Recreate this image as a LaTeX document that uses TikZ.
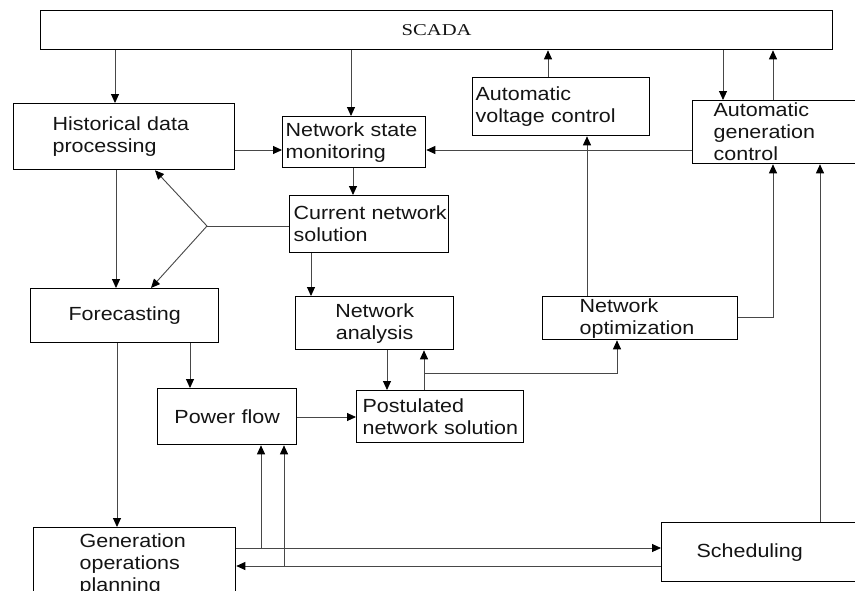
\documentclass[tikz,border=0pt]{standalone}
\usepackage{fontspec}
\setmainfont[FakeStretch=1.13]{Liberation Sans}
\newfontfamily\scadafont[FakeStretch=1.25]{Liberation Serif}
\usetikzlibrary{arrows.meta}
% one line of a box label, indented from the box's left edge
\newcommand{\padline}[2]{\mbox{\hspace*{#1}#2}}

\begin{document}
\begin{tikzpicture}[x=1pt,y=-1pt,
  box/.style={draw=black, line width=1.3pt, inner xsep=0pt, inner ysep=0pt,
    anchor=north west, text=black!92, font=\fontsize{19}{22}\selectfont},
  bx/.style 2 args={box, text width=#1, minimum height=#2},
  wire/.style={draw=black!72, line width=0.9pt},
  arr/.style={wire, -{Triangle[length=9pt,width=8pt,color=black]}}
]
\fill[white] (0,0) rectangle (855,590);
\clip (0,0) rectangle (855,590);

% blocks
\node[bx={792pt}{39pt}, align=center, font=\scadafont\fontsize{16.5}{18}\selectfont] (scada) at (40,10) {SCADA};
\node[bx={221pt}{66pt}, align=left] (hdp) at (13,103)
  {\padline{39pt}{Historical data}\\\padline{39pt}{processing}};
\node[bx={143pt}{51pt}, align=left] (nsm) at (282,116)
  {\padline{3pt}{Network state}\\\padline{3pt}{monitoring}};
\node[bx={177pt}{58pt}, align=left] (avc) at (472,77)
  {\padline{3pt}{Automatic}\\\padline{3pt}{voltage control}};
\node[bx={180pt}{63pt}, align=left] (agc) at (692,100)
  {\padline{21pt}{Automatic}\\\padline{21pt}{generation}\\\padline{21pt}{control}};
\node[bx={159pt}{57pt}, align=left] (cns) at (289,195)
  {\padline{4pt}{Current network}\\\padline{4pt}{solution}};
\node[bx={188pt}{54pt}, align=center] (fc) at (30,288) {Forecasting};
\node[bx={158pt}{53pt}, align=center] (na) at (295,296) {Network\\analysis};
\node[bx={195pt}{43pt}, align=left] (no) at (542,296)
  {\padline{37pt}{Network}\\\padline{37pt}{optimization}};
\node[bx={139pt}{56pt}, align=center] (pf) at (157,388) {Power flow};
\node[bx={167pt}{52pt}, align=left] (pns) at (356,390)
  {\padline{6pt}{Postulated}\\\padline{6pt}{network solution}};
\node[bx={202pt}{74pt}, align=left] (gop) at (33,527)
  {\padline{46pt}{Generation}\\\padline{46pt}{operations}\\\padline{46pt}{planning}};
\node[bx={210pt}{59pt}, align=left] (sch) at (661,522)
  {\padline{35pt}{Scheduling}};

% SCADA links
\draw[arr] (scada.south -| 115,0) -- (hdp.north -| 115,0);
\draw[arr] (scada.south -| 351,0) -- (nsm.north -| 351,0);
\draw[arr] (avc.north -| 548,0) -- (scada.south -| 548,0);
\draw[arr] (scada.south -| 723,0) -- (agc.north -| 723,0);
\draw[arr] (agc.north -| 773,0) -- (scada.south -| 773,0);

% monitoring
\draw[arr] (hdp.east |- 0,150) -- (nsm.west |- 0,150);
\draw[arr] (agc.west |- 0,150) -- (nsm.east |- 0,150);
\draw[arr] (nsm.south -| 353,0) -- (cns.north -| 353,0);

% current solution fans out to history and forecasting
\coordinate (fork) at (207,226);
\draw[wire] (cns.west |- fork) -- (fork);
\draw[arr] (fork) -- (hdp.south -| 155,0);
\draw[arr] (fork) -- (fc.north -| 151,0);

\draw[arr] (hdp.south -| 116,0) -- (fc.north -| 116,0);
\draw[arr] (cns.south -| 311,0) -- (na.north -| 311,0);

% analysis loop
\draw[arr] (na.south -| 387,0) -- (pns.north -| 387,0);
\draw[arr] (pns.north -| 424,0) -- (na.south -| 424,0);
\coordinate (tap) at (424,373);
\draw[arr] (tap) -- (617,373) -- (no.south -| 617,0);

% optimization outputs
\draw[arr] (no.north -| 587,0) -- (avc.south -| 587,0);
\draw[arr] (no.east |- 0,317) -- (773,317) -- (agc.south -| 773,0);
\draw[arr] (sch.north -| 820,0) -- (agc.south -| 820,0);

% forecasting and power flow
\draw[arr] (fc.south -| 190,0) -- (pf.north -| 190,0);
\draw[arr] (fc.south -| 117,0) -- (gop.north -| 117,0);
\draw[arr] (pf.east |- 0,417) -- (pns.west |- 0,417);

% planning and scheduling
\draw[arr] (gop.east |- 0,548) -- (sch.west |- 0,548);
\draw[arr] (sch.west |- 0,566) -- (gop.east |- 0,566);
\coordinate (tapa) at (261,548);
\coordinate (tapb) at (284,566);
\draw[arr] (tapa) -- (pf.south -| tapa);
\draw[arr] (tapb) -- (pf.south -| tapb);
\end{tikzpicture}
\end{document}
